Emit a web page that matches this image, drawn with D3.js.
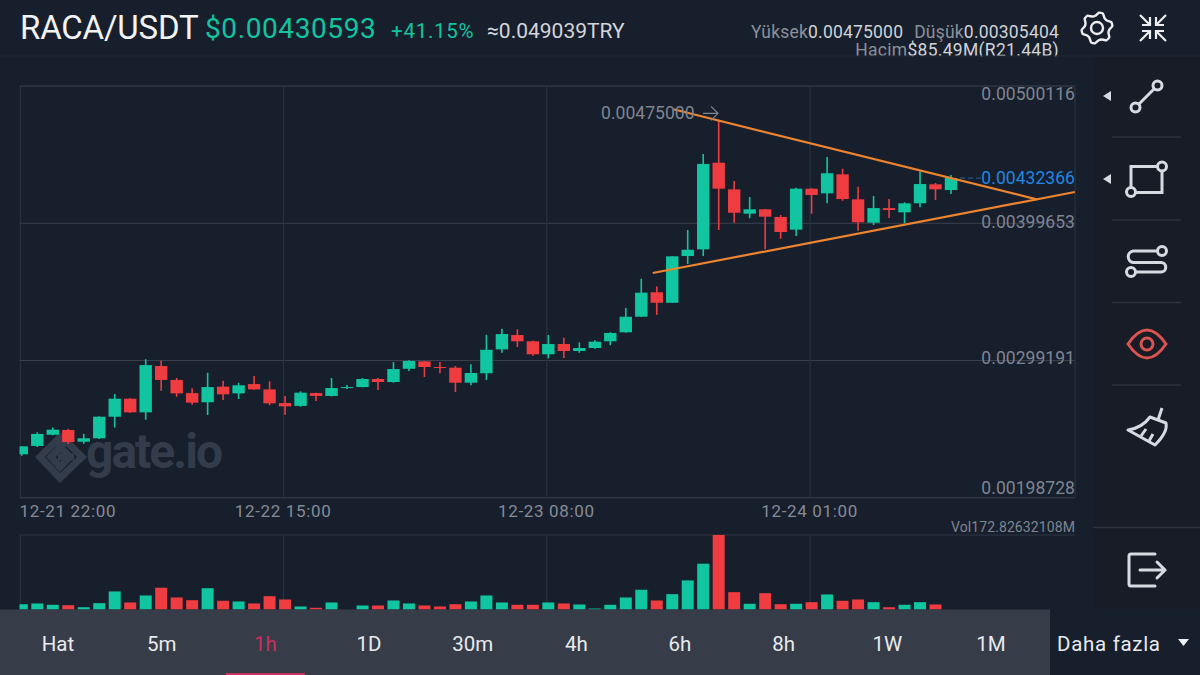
<!DOCTYPE html>
<html>
<head>
<meta charset="utf-8">
<script src="https://cdn.jsdelivr.net/npm/d3@7"></script>
<style>
html, body { margin: 0; padding: 0; background: #181f2c; }
svg { display: block; font-family: Roboto, sans-serif; }
</style>
</head>
<body>
<svg id="chart" width="1200" height="675"></svg>
<script>
// prices are in units of 0.001 USDT, one entry per hourly candle
let opens = [2.302, 2.363, 2.445, 2.480, 2.394, 2.419, 2.577, 2.709, 2.609, 2.948, 2.846, 2.750, 2.683, 2.797, 2.748, 2.816, 2.777, 2.677, 2.656, 2.750, 2.729,
    2.787, 2.794, 2.853, 2.831, 2.928, 2.982, 2.941, 2.936, 2.826, 2.895, 3.070, 3.175, 3.129, 3.034, 3.109, 3.058, 3.080, 3.129, 3.195,
    3.309, 3.488, 3.411, 3.753, 3.802, 4.436, 4.241, 4.063, 4.095, 4.039, 3.946, 4.246, 4.212, 4.351, 4.168, 3.997, 4.104, 4.073, 4.139, 4.278, 4.236];
let closes = [2.360, 2.451, 2.482, 2.392, 2.419, 2.577, 2.709, 2.609, 2.955, 2.846, 2.748, 2.680, 2.794, 2.741, 2.807, 2.777, 2.675, 2.653, 2.753, 2.729, 2.787,
    2.794, 2.853, 2.831, 2.926, 2.985, 2.941, 2.936, 2.826, 2.897, 3.067, 3.182, 3.129, 3.034, 3.109, 3.058, 3.080, 3.126, 3.190, 3.309,
    3.485, 3.411, 3.751, 3.799, 4.427, 4.246, 4.070, 4.095, 4.041, 3.929, 4.246, 4.200, 4.359, 4.170, 4.000, 4.104, 4.090, 4.139, 4.280, 4.241, 4.324];
let highs = [2.360, 2.463, 2.499, 2.489, 2.451, 2.580, 2.743, 2.712, 2.997, 2.987, 2.860, 2.785, 2.899, 2.841, 2.826, 2.875, 2.836, 2.729, 2.763, 2.753, 2.860,
    2.809, 2.860, 2.860, 2.977, 2.990, 2.985, 2.977, 2.948, 2.961, 3.177, 3.221, 3.217, 3.133, 3.175, 3.155, 3.121, 3.136, 3.195, 3.373,
    3.587, 3.531, 3.753, 3.943, 4.500, 4.750, 4.302, 4.185, 4.097, 4.053, 4.253, 4.249, 4.478, 4.392, 4.261, 4.192, 4.170, 4.146, 4.374, 4.287, 4.346];
let lows = [2.292, 2.355, 2.441, 2.377, 2.379, 2.414, 2.499, 2.606, 2.555, 2.767, 2.723, 2.665, 2.590, 2.699, 2.707, 2.775, 2.661, 2.592, 2.650, 2.692, 2.726,
    2.780, 2.792, 2.772, 2.826, 2.911, 2.868, 2.895, 2.758, 2.807, 2.846, 3.045, 3.087, 3.024, 3.004, 3.007, 3.045, 3.075, 3.100, 3.192,
    3.307, 3.323, 3.409, 3.695, 3.753, 3.943, 3.997, 4.029, 3.802, 3.880, 3.900, 4.063, 4.139, 4.158, 3.938, 3.980, 4.031, 3.993, 4.110, 4.163, 4.207];
// volume in millions
let volumes = [12.3, 14, 10.9, 10, 5.3, 14.7, 41.9, 16.3, 32.6, 50.5, 27.9, 21.6, 49.5, 20.2, 18.6, 14, 30.9, 23.3, 7, 4, 16.3,
    0, 9.3, 9.3, 20.9, 14, 9.3, 7, 12.3, 18.6, 32.6, 16.3, 10.9, 10.9, 16.3, 14, 11.6, 2.3, 10.9, 27.9,
    45.8, 20.9, 35.6, 67.5, 106.3, 172.83, 40.2, 13.3, 37.9, 12.3, 13.3, 17, 34.9, 20.2, 23.3, 17, 5.3, 10.9, 17, 11.6, 0];

let priceTicks = [5.00116, 3.99653, 2.99191, 1.98728];
let priceTickLabels = ["0.00500116", "0.00399653", "0.00299191", "0.00198728"];
let timeTicks = [0, 17, 34, 51];
let timeTickLabels = ["12-21 22:00", "12-22 15:00", "12-23 08:00", "12-24 01:00"];
let lastPrice = 4.32366;
let highMark = 4.75;
// trend lines as [candle index, price]
let upperTrend = [[42.07, 4.827], [65.53, 4.168]];
let lowerTrend = [[40.74, 3.629], [68.0, 4.222]];
let intervals = ["Hat", "5m", "1h", "1D", "30m", "4h", "6h", "8h", "1W", "1M"];
let activeInterval = "1h";

const UP = "#10c5a0";
const DOWN = "#ee3c40";
const BG = "#181f2c";
const GRID_H = "#3b414d";
const GRID_V = "#2d3442";
const plotLeft = 19.5;
const plotRight = 1075;

let svg = d3.select("#chart");
svg.append("rect").attr("width", 1200).attr("height", 675).attr("fill", BG);

let x = d3.scaleLinear().domain([0, 60]).range([21.8, 951]);
let y = d3.scaleLinear().domain([1.98728, 5.00116]).range([497.3, 85.5]);
let yVol = d3.scaleLinear().domain([0, 172.83]).range([609.5, 535]);
const gridShift = -2; // gridlines sit just left of their candle

svg.append("clipPath").attr("id", "plotClip").append("rect")
    .attr("x", plotLeft).attr("y", 60).attr("width", plotRight - plotLeft).attr("height", 560);

drawHeader();
drawWatermark();
drawAxes();
drawCandles();
drawVolume();
drawTrends();
drawPriceLabels();
drawIntervalBar();
drawSidePanel();

function label(parent, px, py, text, size, fill, anchor = "start", spacing = 0) {
    return parent.append("text")
        .attr("x", px).attr("y", py)
        .attr("font-size", size)
        .attr("fill", fill)
        .attr("text-anchor", anchor)
        .attr("letter-spacing", spacing)
        .text(text);
}

function drawHeader() {
    label(svg, 20, 39, "RACA/USDT", 33, "#f2f3f5", "start", -0.2);
    label(svg, 205, 38, "$0.00430593", 28, UP, "start", 0.6);
    label(svg, 391, 38, "+41.15%", 20.5, UP, "start", 0.75);
    label(svg, 487, 38, "≈0.049039TRY", 21, "#d3d6db", "start", 0);

    let top = svg.append("text").attr("x", 1059).attr("y", 38).attr("font-size", 17.5)
        .attr("letter-spacing", 0.2).attr("text-anchor", "end");
    top.append("tspan").attr("fill", "#8b909a").text("Yüksek");
    top.append("tspan").attr("fill", "#cfd2d8").text("0.00475000");
    top.append("tspan").attr("fill", "#8b909a").attr("dx", 11).text("Düşük");
    top.append("tspan").attr("fill", "#cfd2d8").text("0.00305404");

    svg.append("clipPath").attr("id", "headClip").append("rect").attr("width", 1200).attr("height", 56.5);
    let second = svg.append("text").attr("clip-path", "url(#headClip)")
        .attr("x", 1059).attr("y", 56).attr("font-size", 17.5)
        .attr("letter-spacing", 0.3).attr("text-anchor", "end");
    second.append("tspan").attr("fill", "#8b909a").text("Hacim");
    second.append("tspan").attr("fill", "#cfd2d8").text("$85.49M(R21.44B)");

    svg.append("line").attr("x1", 0).attr("x2", 1200).attr("y1", 56).attr("y2", 56).attr("stroke", "#1f2633");

    // gear
    let gearPts = d3.range(24).map(i => {
        let bump = [1, 1, 0.8, 0.8][i % 4];
        return [i / 24 * 2 * Math.PI + 0.13, 15.5 * bump];
    });
    let gear = svg.append("g").attr("transform", "translate(1097,28)")
        .attr("fill", "none").attr("stroke", "#eceef1").attr("stroke-width", 2.4);
    gear.append("path").attr("d", d3.lineRadial().curve(d3.curveCardinalClosed.tension(0.6))(gearPts));
    gear.append("circle").attr("r", 6);

    // compress arrows
    let comp = svg.append("g").attr("transform", "translate(1153,28)")
        .attr("fill", "none").attr("stroke", "#eceef1").attr("stroke-width", 2.2);
    [[1, 1], [-1, 1], [1, -1], [-1, -1]].forEach(s => {
        comp.append("path").attr("transform", `scale(${s[0]},${s[1]})`).attr("d", "M3,3L13,13M3,11V3H11");
    });
}

function drawWatermark() {
    let mark = svg.append("g");
    mark.append("path")
        .attr("d", "M60,437L40,457L60,478L82,457L66,441L60,447L70,457L60,467L51,457L66,441Z M58,457H74")
        .attr("fill", "none").attr("stroke", "#333c4b").attr("stroke-width", 7).attr("stroke-linejoin", "miter");
    label(mark, 86, 468, "gate.io", 48, "#333c4b", "start", -2).attr("font-weight", 700);
}

function drawAxes() {
    let yAxis = d3.axisLeft(y)
        .tickValues(priceTicks)
        .tickSize(plotRight - plotLeft)
        .tickFormat("");
    let yG = svg.append("g").attr("transform", `translate(${plotRight},0)`).call(yAxis);
    yG.select(".domain").remove();
    yG.selectAll("line").attr("stroke", GRID_H);

    let xAxis = d3.axisBottom(x)
        .tickValues(timeTicks)
        .tickSize(497.3 - 85.5)
        .tickFormat("");
    let xG = svg.append("g").attr("transform", `translate(${gridShift},85.5)`).call(xAxis);
    xG.select(".domain").remove();
    xG.selectAll("line").attr("stroke", GRID_V);

    let xVolG = svg.append("g").attr("transform", `translate(${gridShift},535)`)
        .call(d3.axisBottom(x).tickValues(timeTicks).tickSize(75).tickFormat(""));
    xVolG.select(".domain").remove();
    xVolG.selectAll("line").attr("stroke", GRID_V);

    svg.append("line").attr("x1", plotRight).attr("x2", plotRight).attr("y1", 85.5).attr("y2", 497.3).attr("stroke", GRID_V);
    svg.append("line").attr("x1", plotLeft).attr("x2", plotRight).attr("y1", 535).attr("y2", 535).attr("stroke", GRID_V);

    timeTicks.forEach((t, i) => {
        label(svg, i == 0 ? plotLeft : x(t) + gridShift, 517, timeTickLabels[i], 17, "#858b96", i == 0 ? "start" : "middle", 0.65);
    });
    label(svg, plotRight, 532, "Vol172.82632108M", 14, "#7e8591", "end", 0.1);
}

function drawCandles() {
    let g = svg.append("g").attr("clip-path", "url(#plotClip)");
    let rows = d3.range(opens.length);
    let colour = i => closes[i] >= opens[i] ? UP : DOWN;
    g.selectAll(".wick").data(rows).enter().append("line")
        .attr("class", "wick")
        .attr("x1", i => x(i)).attr("x2", i => x(i))
        .attr("y1", i => y(highs[i])).attr("y2", i => y(lows[i]))
        .attr("stroke", colour).attr("stroke-width", 1.6);
    g.selectAll(".body").data(rows).enter().append("rect")
        .attr("class", "body")
        .attr("x", i => x(i) - 6.2).attr("width", 12.4)
        .attr("y", i => y(Math.max(opens[i], closes[i])))
        .attr("height", i => Math.max(1, Math.abs(y(opens[i]) - y(closes[i]))))
        .attr("fill", colour);
}

function drawVolume() {
    let rows = d3.range(volumes.length);
    svg.append("g").attr("clip-path", "url(#plotClip)")
        .selectAll("rect").data(rows).enter().append("rect")
        .attr("x", i => x(i) - 6).attr("width", 12)
        .attr("y", i => yVol(volumes[i]))
        .attr("height", i => yVol(0) - yVol(volumes[i]))
        .attr("fill", i => closes[i] >= opens[i] ? UP : DOWN);
}

function drawTrends() {
    let line = d3.line().x(d => x(d[0])).y(d => y(d[1]));
    svg.append("g").attr("clip-path", "url(#plotClip)")
        .selectAll("path").data([upperTrend, lowerTrend]).enter().append("path")
        .attr("d", line).attr("fill", "none").attr("stroke", "#ee8430").attr("stroke-width", 2.2);
}

function drawPriceLabels() {
    let shifts = [8.5, -0.7, -2, -9]; // labels are pulled inward from their gridlines
    priceTicks.forEach((p, i) => {
        label(svg, plotRight, y(p) + shifts[i] + 6, priceTickLabels[i], 17.5, "#7e8591", "end", 0.05);
    });
    // last price
    label(svg, plotRight, y(lastPrice) + 6, "0.00432366", 17.5, "#1f86e0", "end", 0.05);
    svg.append("line").attr("x1", 960).attr("x2", 981)
        .attr("y1", y(lastPrice)).attr("y2", y(lastPrice))
        .attr("stroke", "#2b5f93").attr("stroke-dasharray", "5,3");
    // session high marker
    let hy = y(highMark) - 6.5;
    label(svg, 601, hy + 6, "0.00475000", 17.5, "#7e8591", "start", 0.05);
    svg.append("path").attr("d", `M703,${hy}H718M711,${hy - 7}L718,${hy}L711,${hy + 7}`)
        .attr("fill", "none").attr("stroke", "#7e8591").attr("stroke-width", 1.2);
}

function drawIntervalBar() {
    svg.append("rect").attr("x", 0).attr("y", 609.5).attr("width", 1050).attr("height", 66).attr("fill", "#373d48");
    svg.append("rect").attr("x", 1050).attr("y", 609.5).attr("width", 150).attr("height", 66).attr("fill", "#181f2c");
    let tab = d3.scalePoint().domain(intervals).range([58, 991]);
    svg.selectAll(".tab").data(intervals).enter().append("text")
        .attr("class", "tab")
        .attr("x", d => tab(d)).attr("y", 651)
        .attr("text-anchor", "middle").attr("font-size", 20.5)
        .attr("fill", d => d == activeInterval ? "#c92f5f" : "#e8eaee")
        .text(d => d);
    svg.append("rect").attr("x", tab(activeInterval) - 39.5).attr("y", 673).attr("width", 79).attr("height", 2).attr("fill", "#c92f5f");
    label(svg, 1057, 651, "Daha fazla", 20.5, "#e8eaee", "start", 0.7);
    svg.append("path").attr("d", "M1178,639H1189L1183.5,646Z").attr("fill", "#eef0f3");
}

function drawSidePanel() {
    let ink = "#d6dae1";
    let side = svg.append("g");
    side.append("rect").attr("x", 1093).attr("y", 57).attr("width", 107).attr("height", 552).attr("fill", "#171c27");
    [137, 220, 302.5, 385].forEach(sy => {
        side.append("line").attr("x1", 1112).attr("x2", 1181).attr("y1", sy).attr("y2", sy).attr("stroke", "#2c323e").attr("stroke-width", 1.5);
    });
    side.append("line").attr("x1", 1093).attr("x2", 1200).attr("y1", 527.5).attr("y2", 527.5).attr("stroke", "#2c323e").attr("stroke-width", 1.5);

    [96, 179].forEach(ty => {
        side.append("path").attr("d", `M1103,${ty}L1111,${ty - 5}V${ty + 5}Z`).attr("fill", ink);
    });

    let stroke = sel => sel.attr("fill", "none").attr("stroke", ink).attr("stroke-width", 3).attr("stroke-linecap", "round");
    let ring = (cx, cy) => side.append("circle").attr("cx", cx).attr("cy", cy).attr("r", 4.5)
        .attr("fill", "#171c27").attr("stroke", ink).attr("stroke-width", 3);

    // line tool
    stroke(side.append("path")).attr("d", "M1136,107L1158,85");
    ring(1135.5, 107.5); ring(1157.5, 85.5);
    // rectangle tool
    stroke(side.append("path")).attr("d", "M1131,192V166.5H1162V192.5H1131");
    ring(1162, 166.5); ring(1131, 192);
    // path tool
    stroke(side.append("path")).attr("d", "M1162,251H1133A5.85,5.85 0 0 0 1133,262.5H1161A4.75,4.75 0 0 1 1161,272H1131");
    ring(1162, 251); ring(1131, 272);
    // eye, on
    let eye = side.append("g").attr("fill", "none").attr("stroke", "#d9534f").attr("stroke-width", 3);
    eye.append("path").attr("d", "M1128,344Q1147,316 1166,344Q1147,372 1128,344Z");
    eye.append("circle").attr("cx", 1147).attr("cy", 344).attr("r", 6);
    // broom
    let broom = side.append("g").attr("fill", "none").attr("stroke", ink).attr("stroke-width", 3).attr("stroke-linejoin", "round");
    broom.append("path").attr("d", "M1150,417L1166,423Q1168,432 1155,445L1128,430Q1142,428 1150,417Z");
    broom.append("path").attr("d", "M1158,420L1162,408M1141,436L1146,429M1149,441L1153,434");
    // exit
    stroke(side.append("path")).attr("d", "M1155,554H1131Q1129,554 1129,556V584Q1129,586 1131,586H1155");
    stroke(side.append("path")).attr("d", "M1140,570H1165M1157,562L1165,570L1157,578");
}
</script>
</body>
</html>
